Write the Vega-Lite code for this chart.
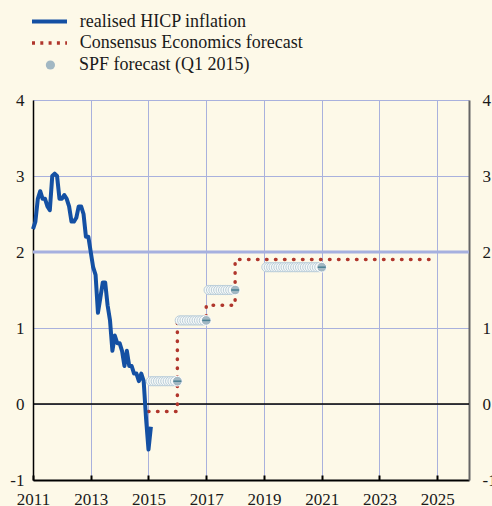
{
  "$schema": "https://vega.github.io/schema/vega-lite/v6.json",
  "autosize": "none",
  "width": 436,
  "height": 380,
  "padding": {"left": 33, "top": 100, "right": 23, "bottom": 26},
  "background": "#fdf9e8",
  "config": {
    "view": {"stroke": null},
    "font": "Liberation Serif",
    "axis": {"labelFont": "Liberation Serif", "labelFontSize": 17, "labelColor": "#1a1a1a", "title": null},
    "legend": {"labelFont": "Liberation Serif", "labelFontSize": 18, "labelColor": "#1a1a1a", "labelLimit": 400, "padding": 0, "title": null}
  },
  "datasets": {
    "hicp": [
      {"t": 2011.000, "v": 2.3}, {"t": 2011.083, "v": 2.4}, {"t": 2011.167, "v": 2.7}, {"t": 2011.250, "v": 2.8},
      {"t": 2011.333, "v": 2.7}, {"t": 2011.417, "v": 2.7}, {"t": 2011.500, "v": 2.6}, {"t": 2011.583, "v": 2.55},
      {"t": 2011.667, "v": 3.0}, {"t": 2011.750, "v": 3.03}, {"t": 2011.833, "v": 3.0}, {"t": 2011.917, "v": 2.7},
      {"t": 2012.000, "v": 2.7}, {"t": 2012.083, "v": 2.75}, {"t": 2012.167, "v": 2.7}, {"t": 2012.250, "v": 2.6},
      {"t": 2012.333, "v": 2.4}, {"t": 2012.417, "v": 2.4}, {"t": 2012.500, "v": 2.45}, {"t": 2012.583, "v": 2.6},
      {"t": 2012.667, "v": 2.6}, {"t": 2012.750, "v": 2.5}, {"t": 2012.833, "v": 2.2}, {"t": 2012.917, "v": 2.2},
      {"t": 2013.000, "v": 2.0}, {"t": 2013.083, "v": 1.8}, {"t": 2013.167, "v": 1.7}, {"t": 2013.250, "v": 1.2},
      {"t": 2013.333, "v": 1.4}, {"t": 2013.417, "v": 1.6}, {"t": 2013.500, "v": 1.6}, {"t": 2013.583, "v": 1.3},
      {"t": 2013.667, "v": 1.1}, {"t": 2013.750, "v": 0.7}, {"t": 2013.833, "v": 0.9}, {"t": 2013.917, "v": 0.8},
      {"t": 2014.000, "v": 0.8}, {"t": 2014.083, "v": 0.7}, {"t": 2014.167, "v": 0.5}, {"t": 2014.250, "v": 0.7},
      {"t": 2014.333, "v": 0.5}, {"t": 2014.417, "v": 0.5}, {"t": 2014.500, "v": 0.4}, {"t": 2014.583, "v": 0.4},
      {"t": 2014.667, "v": 0.3}, {"t": 2014.750, "v": 0.4}, {"t": 2014.833, "v": 0.3}, {"t": 2014.917, "v": -0.2},
      {"t": 2015.000, "v": -0.6}, {"t": 2015.083, "v": -0.3}
    ],
    "consensus": [
      {"t": 2015, "v": -0.1}, {"t": 2016, "v": 1.1}, {"t": 2017, "v": 1.3}, {"t": 2018, "v": 1.9}, {"t": 2025, "v": 1.9}
    ],
    "spf": [
      {"t": 2015.083, "v": 0.3, "e": 0}, {"t": 2015.167, "v": 0.3, "e": 0}, {"t": 2015.250, "v": 0.3, "e": 0}, {"t": 2015.333, "v": 0.3, "e": 0},
      {"t": 2015.417, "v": 0.3, "e": 0}, {"t": 2015.500, "v": 0.3, "e": 0}, {"t": 2015.583, "v": 0.3, "e": 0}, {"t": 2015.667, "v": 0.3, "e": 0},
      {"t": 2015.750, "v": 0.3, "e": 0}, {"t": 2015.833, "v": 0.3, "e": 0}, {"t": 2015.917, "v": 0.3, "e": 0}, {"t": 2016.000, "v": 0.3, "e": 1},
      {"t": 2016.083, "v": 1.1, "e": 0}, {"t": 2016.167, "v": 1.1, "e": 0}, {"t": 2016.250, "v": 1.1, "e": 0}, {"t": 2016.333, "v": 1.1, "e": 0},
      {"t": 2016.417, "v": 1.1, "e": 0}, {"t": 2016.500, "v": 1.1, "e": 0}, {"t": 2016.583, "v": 1.1, "e": 0}, {"t": 2016.667, "v": 1.1, "e": 0},
      {"t": 2016.750, "v": 1.1, "e": 0}, {"t": 2016.833, "v": 1.1, "e": 0}, {"t": 2016.917, "v": 1.1, "e": 0}, {"t": 2017.000, "v": 1.1, "e": 1},
      {"t": 2017.083, "v": 1.5, "e": 0}, {"t": 2017.167, "v": 1.5, "e": 0}, {"t": 2017.250, "v": 1.5, "e": 0}, {"t": 2017.333, "v": 1.5, "e": 0},
      {"t": 2017.417, "v": 1.5, "e": 0}, {"t": 2017.500, "v": 1.5, "e": 0}, {"t": 2017.583, "v": 1.5, "e": 0}, {"t": 2017.667, "v": 1.5, "e": 0},
      {"t": 2017.750, "v": 1.5, "e": 0}, {"t": 2017.833, "v": 1.5, "e": 0}, {"t": 2017.917, "v": 1.5, "e": 0}, {"t": 2018.000, "v": 1.5, "e": 1},
      {"t": 2019.083, "v": 1.8, "e": 0}, {"t": 2019.167, "v": 1.8, "e": 0}, {"t": 2019.250, "v": 1.8, "e": 0}, {"t": 2019.333, "v": 1.8, "e": 0},
      {"t": 2019.417, "v": 1.8, "e": 0}, {"t": 2019.500, "v": 1.8, "e": 0}, {"t": 2019.583, "v": 1.8, "e": 0}, {"t": 2019.667, "v": 1.8, "e": 0},
      {"t": 2019.750, "v": 1.8, "e": 0}, {"t": 2019.833, "v": 1.8, "e": 0}, {"t": 2019.917, "v": 1.8, "e": 0}, {"t": 2020.000, "v": 1.8, "e": 0},
      {"t": 2020.083, "v": 1.8, "e": 0}, {"t": 2020.167, "v": 1.8, "e": 0}, {"t": 2020.250, "v": 1.8, "e": 0}, {"t": 2020.333, "v": 1.8, "e": 0},
      {"t": 2020.417, "v": 1.8, "e": 0}, {"t": 2020.500, "v": 1.8, "e": 0}, {"t": 2020.583, "v": 1.8, "e": 0}, {"t": 2020.667, "v": 1.8, "e": 0},
      {"t": 2020.750, "v": 1.8, "e": 0}, {"t": 2020.833, "v": 1.8, "e": 0}, {"t": 2020.917, "v": 1.8, "e": 0}, {"t": 2021.000, "v": 1.8, "e": 1}
    ],
    "refs": [{"v": 2}],
    "zero": [{"v": 0}]
  },
  "resolve": {"axis": {"y": "independent"}},
  "layer": [
    {
      "data": {"name": "refs"},
      "mark": {"type": "rule", "color": "#a6b0df", "strokeWidth": 3},
      "encoding": {
        "y": {"field": "v", "type": "quantitative", "scale": {"domain": [-1, 4], "nice": false, "zero": false},
          "axis": {"orient": "left", "values": [-1, 0, 1, 2, 3, 4], "grid": true, "gridColor": "#a9b1dd", "gridWidth": 1,
            "ticks": false, "domainColor": "#000000", "domainWidth": 1.5, "labelPadding": 9,
            "labelExpr": "datum.value < 0 ? '-' + abs(datum.value) : datum.label"}}
      }
    },
    {
      "data": {"name": "zero"},
      "mark": {"type": "rule", "color": "#000000", "strokeWidth": 1.5},
      "encoding": {
        "y": {"field": "v", "type": "quantitative", "scale": {"domain": [-1, 4], "nice": false, "zero": false},
          "axis": {"orient": "right", "values": [-1, 0, 1, 2, 3, 4], "grid": false, "ticks": false,
            "domainColor": "#666666", "domainWidth": 2, "labelPadding": 13,
            "labelExpr": "datum.value < 0 ? '-' + abs(datum.value) : datum.label"}}
      }
    },
    {
      "data": {"name": "consensus"},
      "mark": {"type": "line", "interpolate": "step-after", "color": "#b0362c", "strokeWidth": 3.5, "strokeDash": [0.5, 8.5], "strokeCap": "round"},
      "encoding": {
        "x": {"field": "t", "type": "quantitative", "scale": {"domain": [2011, 2026.1], "nice": false, "zero": false},
          "axis": {"values": [2011, 2013, 2015, 2017, 2019, 2021, 2023, 2025], "format": "d", "grid": true, "gridColor": "#a9b1dd", "gridWidth": 1,
            "domainColor": "#000000", "domainWidth": 2, "tickColor": "#000000", "tickWidth": 2, "tickSize": -5, "labelPadding": 16, "labelFlush": false}},
        "y": {"field": "v", "type": "quantitative", "scale": {"domain": [-1, 4], "nice": false, "zero": false}, "axis": null},
        "opacity": {"datum": "Consensus Economics forecast", "type": "nominal",
          "scale": {"type": "ordinal", "domain": ["Consensus Economics forecast"], "range": [1]},
          "legend": {"orient": "none", "legendX": -3, "legendY": -76.5, "symbolType": "stroke", "symbolSize": 1225,
            "symbolStrokeColor": "#b0362c", "symbolStrokeWidth": 3.5, "symbolDash": [3, 5.3], "symbolOpacity": 1, "labelOffset": 10.7}}
      }
    },
    {
      "data": {"name": "hicp"},
      "mark": {"type": "line", "strokeWidth": 4, "strokeJoin": "round"},
      "encoding": {
        "x": {"field": "t", "type": "quantitative"},
        "y": {"field": "v", "type": "quantitative", "scale": {"domain": [-1, 4], "nice": false, "zero": false}, "axis": null},
        "color": {"datum": "realised HICP inflation", "type": "nominal",
          "scale": {"domain": ["realised HICP inflation"], "range": ["#1450a3"]},
          "legend": {"orient": "none", "legendX": -3, "legendY": -98, "symbolType": "stroke", "symbolSize": 1225,
            "symbolStrokeWidth": 4, "labelOffset": 10.7}}
      }
    },
    {
      "data": {"name": "spf"},
      "transform": [{"filter": "datum.e == 0"}],
      "mark": {"type": "point", "shape": "circle", "filled": true, "fill": "#f6f9f8", "stroke": "#b9cdd9", "strokeWidth": 1, "size": 85, "opacity": 1},
      "encoding": {
        "x": {"field": "t", "type": "quantitative"},
        "y": {"field": "v", "type": "quantitative", "scale": {"domain": [-1, 4], "nice": false, "zero": false}, "axis": null}
      }
    },
    {
      "data": {"name": "spf"},
      "transform": [{"filter": "datum.e == 1"}],
      "mark": {"type": "point", "filled": true, "fill": "#a2b8c3", "stroke": "#ffffff", "strokeWidth": 1, "size": 95, "opacity": 1},
      "encoding": {
        "x": {"field": "t", "type": "quantitative"},
        "y": {"field": "v", "type": "quantitative", "scale": {"domain": [-1, 4], "nice": false, "zero": false}, "axis": null},
        "shape": {"datum": "SPF forecast (Q1 2015)", "type": "nominal",
          "scale": {"domain": ["SPF forecast (Q1 2015)"], "range": ["circle"]},
          "legend": {"orient": "none", "legendX": 8.4, "legendY": -44, "symbolSize": 85, "symbolFillColor": "#9fb5c0",
            "symbolStrokeColor": "#dbe6ec", "symbolStrokeWidth": 1, "symbolOpacity": 1, "labelOffset": 19.5}}
      }
    },
    {
      "data": {"name": "spf"},
      "transform": [{"filter": "datum.e == 1"}],
      "mark": {"type": "tick", "orient": "horizontal", "color": "#4a8093", "size": 8, "thickness": 1.5, "opacity": 1},
      "encoding": {
        "x": {"field": "t", "type": "quantitative"},
        "y": {"field": "v", "type": "quantitative", "scale": {"domain": [-1, 4], "nice": false, "zero": false}, "axis": null}
      }
    }
  ]
}
